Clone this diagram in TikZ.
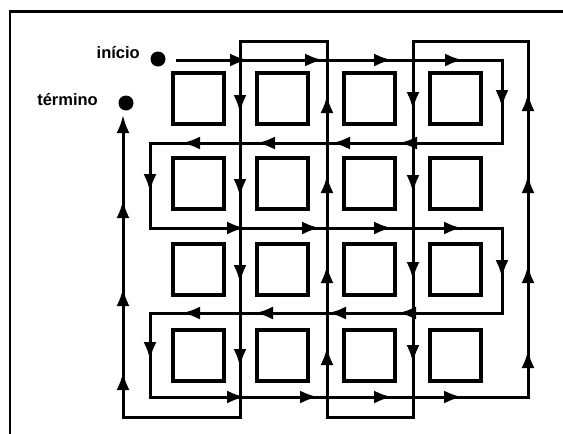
\documentclass[tikz,border=0pt]{standalone}
\usepackage{fontspec}
\setmainfont{Liberation Sans}
\usetikzlibrary{arrows.meta}
\tikzset{
  sq/.style={draw, line width=4pt, minimum size=51pt, inner sep=0pt},
  route/.style={line width=3pt, line join=miter},
  arr/.style={line width=3pt, -{Latex[length=18pt,width=13pt]}},
  dot/.style={circle, fill=black, minimum size=15pt, inner sep=0pt},
  lbl/.style={font=\bfseries\fontsize{16.5}{18}\selectfont, inner sep=0pt},
  frame/.style={line width=2.6pt}
}
\begin{document}
\begin{tikzpicture}[x=1pt,y=-1pt]
\useasboundingbox (0,0) rectangle (563,434);
% frame (top and left edges)
\draw[frame] (10,434) -- (10,11.5) -- (563,11.5);
% squares
\foreach \c/\x in {1/198,2/282.5,3/369.5,4/455.5}
  \foreach \r/\y in {1/98,2/183.5,3/269.5,4/355}
    \node[sq] (s\r\c) at (\x,\y) {};
% start/end dots and labels
\node[dot] (start) at (158,59) {};
\node[dot] (end) at (126,103) {};
\node[lbl, anchor=base east] (lstart) at (140,58) {início};
\node[lbl, anchor=base east] (lend) at (98,105) {término};
% route
\draw[route] (176,60) -- (502,60) -- (502,143) -- (150,143) -- (150,228)
  -- (502,228) -- (502,313) -- (150,313) -- (150,397) -- (528,397)
  -- (528,41) -- (413,41) -- (413,417) -- (327,417) -- (327,41)
  -- (240,41) -- (240,417) -- (123,417) -- (123,125);
% arrows to the right
\foreach \x in {248,323,392,463} \draw[arr] (\x-20,60) -- (\x,60);
\foreach \x in {245,320,392,462} \draw[arr] (\x-20,228) -- (\x,228);
\foreach \x in {245,318,392,462} \draw[arr] (\x-20,397) -- (\x,397);
% arrows to the left
\foreach \x in {399,332,257,182} \draw[arr] (\x+20,143) -- (\x,143);
\foreach \x in {398,328,255,182} \draw[arr] (\x+20,313) -- (\x,313);
% arrows down
\draw[arr] (502,88) -- (502,108);
\draw[arr] (150,172) -- (150,192);
\draw[arr] (502,258) -- (502,278);
\draw[arr] (150,340) -- (150,360);
\foreach \y in {110,193,280,363} \draw[arr] (413,\y-20) -- (413,\y);
\foreach \y in {113,197,283,367} \draw[arr] (240,\y-20) -- (240,\y);
% arrows up
\foreach \y in {350,265,175,93} \draw[arr] (528,\y+20) -- (528,\y);
\foreach \y in {347,265,175,95} \draw[arr] (327,\y+20) -- (327,\y);
\foreach \y in {372,288,200,115} \draw[arr] (123,\y+20) -- (123,\y);
\end{tikzpicture}
\end{document}
